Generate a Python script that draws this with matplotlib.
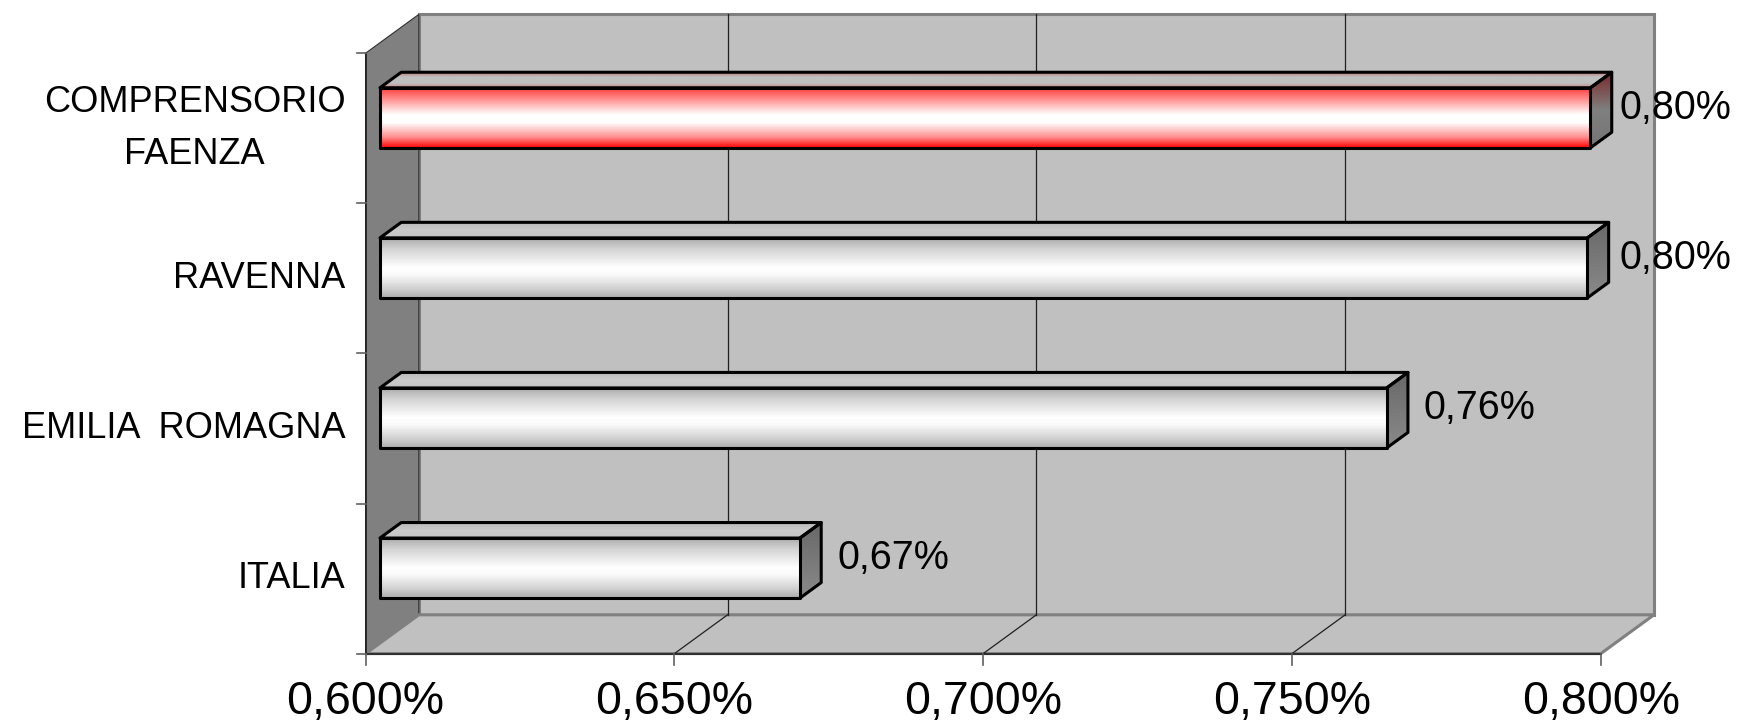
import numpy as np
import matplotlib
matplotlib.use("Agg")
import matplotlib.pyplot as plt
from matplotlib.colors import LinearSegmentedColormap
from matplotlib.patches import Polygon, Rectangle

plt.rcParams["font.family"] = ["Liberation Sans", "DejaVu Sans"]

# ─── Dati ─────────────────────────────────────────────────────────────────────
CATEGORIES = ["ITALIA", "EMILIA  ROMAGNA", "RAVENNA", "COMPRENSORIO\nFAENZA"]
VALUES = [0.668, 0.763, 0.7955, 0.796]          # valori in %
HIGHLIGHT = "COMPRENSORIO\nFAENZA"
X_TICKS = [0.60, 0.65, 0.70, 0.75, 0.80]
X_MIN, X_MAX = 0.60, 0.80

# ─── Geometria (finta prospettiva 3D stile Excel) ─────────────────────────────
W, H = 1737, 722
PX_X = 6176.0          # pixel per 1 punto percentuale
PX_Y = 150.1           # pixel per categoria
X0_PX, Y0_PX = 365.6, 653.6
DX = 53.2 / PX_X       # profondità in unità dati
DY = 38.8 / PX_Y
Z_FRONT, Z_BACK = 0.27, 0.67
BAR_H = 0.4

fig = plt.figure(figsize=(W / 100, H / 100), dpi=100)
ax = fig.add_axes([0, 0, 1, 1])
ax.set_axis_off()
xlim = (X_MIN - X0_PX / PX_X, X_MIN + (W - X0_PX) / PX_X)
ylim = (-(H - Y0_PX) / PX_Y, Y0_PX / PX_Y)
n = len(CATEGORIES)

WALL = "#c0c0c0"
WALL_DARK = "#808080"

# parete di fondo
ax.add_patch(Rectangle((X_MIN + DX, DY), X_MAX - X_MIN, n, facecolor=WALL,
                       edgecolor=WALL_DARK, lw=2.2, zorder=1))
# parete laterale
ax.add_patch(Polygon([(X_MIN, 0), (X_MIN, n), (X_MIN + DX, n + DY), (X_MIN + DX, DY)],
                     closed=True, facecolor=WALL_DARK, edgecolor="#303030", lw=0.8, zorder=1))
# pavimento
ax.add_patch(Polygon([(X_MIN, 0), (X_MAX, 0), (X_MAX + DX, DY), (X_MIN + DX, DY)],
                     closed=True, facecolor=WALL, edgecolor=WALL_DARK, lw=2.2, zorder=1))

# griglia
for t in X_TICKS[1:-1]:
    ax.plot([t + DX, t + DX], [DY, n + DY], color="#202020", lw=0.9, zorder=2)
    ax.plot([t, t + DX], [0, DY], color="#202020", lw=0.9, zorder=2)

# assi
ax.plot([X_MIN, X_MIN], [0, n], color="#202020", lw=1.2, zorder=3)
ax.plot([X_MIN, X_MAX], [0, 0], color="#202020", lw=1.2, zorder=3)
for i in range(n + 1):
    ax.plot([X_MIN - 9 / PX_X, X_MIN], [i, i], color="#606060", lw=1.2, zorder=3)
for t in X_TICKS:
    ax.plot([t, t], [0, -11 / PX_Y], color="#606060", lw=1.2, zorder=3)
    ax.annotate(f"{t:.3f}%".replace(".", ","), xy=(t, 0), xytext=(0, -60),
                textcoords="offset pixels", ha="center", va="baseline", fontsize=33.5)

# colori barre
cm_front_white = LinearSegmentedColormap.from_list("fw", [
    (0, "#a8a8a8"), (0.2, "#d4d4d4"), (0.5, "#ffffff"), (0.62, "#fafafa"),
    (0.85, "#d0d0d0"), (1, "#acacac")])
cm_front_red = LinearSegmentedColormap.from_list("fr", [
    (0, "#ff3838"), (0.2, "#ff9090"), (0.45, "#ffffff"), (0.58, "#ffffff"),
    (0.82, "#ff9090"), (1, "#ff0000")])
cm_top_white = LinearSegmentedColormap.from_list("tw", [(0, "#b8b8b8"), (0.5, "#cacaca"), (1, "#c4c4c4")])
cm_top_red = LinearSegmentedColormap.from_list("tr", [
    (0, "#b87070"), (0.3, "#c0c0c0"), (0.7, "#c0c0c0"), (1, "#c88080")])
cm_side_white = LinearSegmentedColormap.from_list("sw", [(0, "#686868"), (1, "#8a8a8a")])
cm_side_red = LinearSegmentedColormap.from_list("sr", [(0, "#7a2828"), (0.5, "#808080"), (1, "#747474")])

grad = np.linspace(0, 1, 256).reshape(-1, 1)


def shaded(poly_pts, cmap, z):
    pts = np.array(poly_pts)
    poly = Polygon(pts, closed=True, facecolor="none", edgecolor="black", lw=2.2,
                   joinstyle="round", zorder=z + 0.5)
    ax.add_patch(poly)
    im = ax.imshow(grad, cmap=cmap, aspect="auto", origin="upper", interpolation="bilinear",
                   extent=(pts[:, 0].min(), pts[:, 0].max(), pts[:, 1].min(), pts[:, 1].max()),
                   zorder=z)
    im.set_clip_path(poly)


labels = []
for i, (cat, val) in enumerate(zip(CATEGORIES, VALUES)):
    red = cat == HIGHLIGHT
    c = i + 0.5
    fx0 = X_MIN + Z_FRONT * DX
    fx1 = val + Z_FRONT * DX
    fyb = c - BAR_H / 2 + Z_FRONT * DY
    fyt = c + BAR_H / 2 + Z_FRONT * DY
    ddx = (Z_BACK - Z_FRONT) * DX
    ddy = (Z_BACK - Z_FRONT) * DY

    shaded([(fx0, fyt), (fx1, fyt), (fx1 + ddx, fyt + ddy), (fx0 + ddx, fyt + ddy)],
           cm_top_red if red else cm_top_white, 4)
    shaded([(fx1, fyb), (fx1, fyt), (fx1 + ddx, fyt + ddy), (fx1 + ddx, fyb + ddy)],
           cm_side_red if red else cm_side_white, 4)
    shaded([(fx0, fyb), (fx1, fyb), (fx1, fyt), (fx0, fyt)],
           cm_front_red if red else cm_front_white, 5)

    # etichetta categoria
    ax.annotate(cat, xy=(X_MIN, c), xytext=(-20, 0), textcoords="offset pixels",
                ha="right", va="center", multialignment="center", fontsize=26,
                linespacing=1.62)

    # etichetta valore
    ymid = c + (Z_FRONT + Z_BACK) / 2 * DY
    t = ax.annotate(f"{val:.2f}%".replace(".", ","), xy=(fx1 + ddx, ymid), xytext=(16, 2),
                    textcoords="offset pixels", ha="left", va="center", fontsize=28.5, zorder=6)
    labels.append(t)

ax.set_xlim(*xlim)
ax.set_ylim(*ylim)

# le etichette che escono dal grafico vengono allineate al bordo destro
fig.canvas.draw()
r = fig.canvas.get_renderer()
for t in labels:
    bb = t.get_window_extent(r)
    if bb.x1 > W - 6:
        t.xyann = (t.xyann[0] - (bb.x1 - (W - 6)), t.xyann[1])

fig.savefig("out.png", dpi=100)
